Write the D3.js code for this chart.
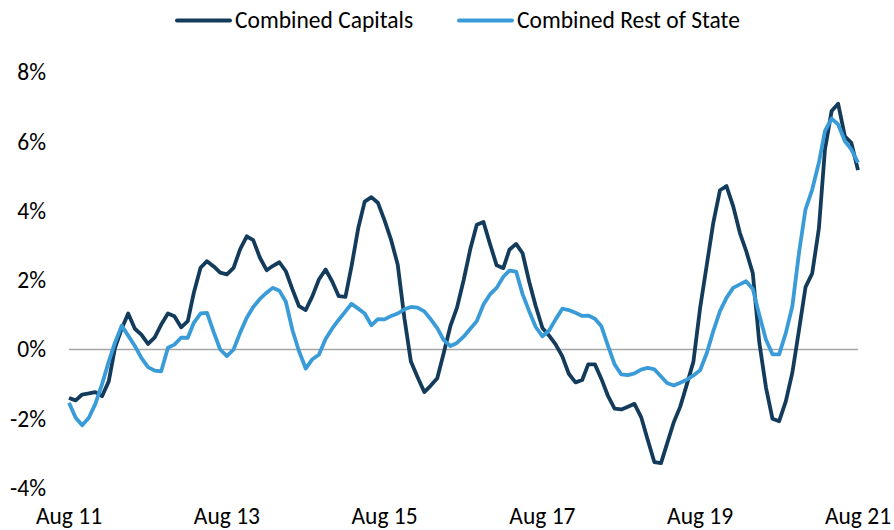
<!DOCTYPE html>
<html>
<head>
<meta charset="utf-8">
<script src="https://cdn.jsdelivr.net/npm/d3@7"></script>
<style>
  html, body { margin: 0; padding: 0; background: #fff; }
  svg { display: block; font-family: Carlito, Calibri, "Liberation Sans", Arial, sans-serif; }
</style>
</head>
<body>
<div id="chart"></div>
<script>
// monthly series, Aug 2011 .. Aug 2021
var startMonth = new Date(2011, 7, 1);
var capitals = [
  -1.40, -1.47, -1.30, -1.27, -1.23, -1.35, -0.92, 0.05, 0.60, 1.04,
  0.60, 0.43, 0.16, 0.35, 0.72, 1.04, 0.96, 0.64, 0.82, 1.64,
  2.36, 2.55, 2.40, 2.22, 2.17, 2.36, 2.89, 3.27, 3.16, 2.65,
  2.29, 2.41, 2.52, 2.26, 1.73, 1.25, 1.14, 1.54, 2.02, 2.31,
  1.97, 1.54, 1.52, 2.40, 3.50, 4.27, 4.40, 4.24, 3.73, 3.15,
  2.45, 0.90, -0.35, -0.80, -1.23, -1.05, -0.83, -0.10, 0.68, 1.20,
  2.00, 2.90, 3.60, 3.68, 3.05, 2.43, 2.35, 2.88, 3.05, 2.78,
  1.95, 1.25, 0.62, 0.40, 0.15, -0.20, -0.70, -0.95, -0.88, -0.43,
  -0.43, -0.85, -1.35, -1.71, -1.73, -1.65, -1.57, -1.95, -2.60, -3.25,
  -3.28, -2.72, -2.10, -1.65, -1.00, -0.35, 1.20, 2.45, 3.66, 4.60,
  4.72, 4.14, 3.37, 2.85, 2.20, 0.20, -1.10, -2.00, -2.07, -1.49,
  -0.67, 0.57, 1.80, 2.20, 3.50, 5.78, 6.89, 7.10, 6.16, 5.97,
  5.18
];
var restOfState = [
  -1.54, -1.97, -2.19, -1.97, -1.57, -1.00, -0.35, 0.20, 0.69, 0.40,
  0.10, -0.24, -0.51, -0.61, -0.63, 0.05, 0.14, 0.34, 0.34, 0.77,
  1.04, 1.06, 0.50, 0.00, -0.19, 0.00, 0.48, 0.92, 1.23, 1.46,
  1.64, 1.78, 1.70, 1.38, 0.55, -0.05, -0.55, -0.28, -0.15, 0.30,
  0.60, 0.86, 1.10, 1.32, 1.18, 1.04, 0.70, 0.88, 0.87, 0.97,
  1.04, 1.16, 1.23, 1.21, 1.10, 0.88, 0.62, 0.27, 0.10, 0.19,
  0.37, 0.60, 0.82, 1.30, 1.59, 1.78, 2.10, 2.28, 2.25, 1.60,
  1.10, 0.65, 0.38, 0.55, 0.87, 1.18, 1.14, 1.06, 0.97, 0.98,
  0.89, 0.67, 0.10, -0.43, -0.72, -0.74, -0.69, -0.58, -0.53, -0.57,
  -0.78, -0.97, -1.04, -0.96, -0.87, -0.75, -0.60, -0.10, 0.53, 1.11,
  1.49, 1.78, 1.88, 1.97, 1.75, 1.00, 0.28, -0.14, -0.14, 0.48,
  1.25, 2.80, 4.05, 4.62, 5.40, 6.31, 6.67, 6.50, 6.02, 5.78,
  5.40
];
var seriesNames = ["Combined Capitals", "Combined Rest of State"];
var seriesColors = ["#133b5c", "#3a9bd9"];
var yTicks = [-4, -2, 0, 2, 4, 6, 8];
var xTickYears = [2011, 2013, 2015, 2017, 2019, 2021];

var W = 894, H = 530;
var fontSize = 23.5;
var svg = d3.select("#chart").append("svg").attr("width", W).attr("height", H);

var months = capitals.map(function(d, i) { return d3.timeMonth.offset(startMonth, i); });

var x = d3.scaleTime()
  .domain([startMonth, months[months.length - 1]])
  .range([69, 858]);
var y = d3.scaleLinear().domain([-4, 8]).range([488, 72.5]);

// y labels
svg.append("g").selectAll("text").data(yTicks).join("text")
  .attr("x", 46)
  .attr("y", function(d) { return y(d); })
  .attr("dy", "0.34em")
  .attr("text-anchor", "end")
  .attr("font-size", fontSize)
  .attr("fill", "#000")
  .text(function(d) { return d + "%"; });

// x labels (kept just inside the bottom edge)
svg.append("g").selectAll("text").data(xTickYears).join("text")
  .attr("x", function(d) { return x(new Date(d, 7, 1)); })
  .attr("y", 523.5)
  .attr("text-anchor", "middle")
  .attr("font-size", fontSize)
  .attr("fill", "#000")
  .text(function(d) { return "Aug " + String(d).slice(2); });

// zero line
svg.append("line")
  .attr("x1", x.range()[0]).attr("x2", x.range()[1])
  .attr("y1", y(0)).attr("y2", y(0))
  .attr("stroke", "#a6a6a6").attr("stroke-width", 1.5);

var line = d3.line()
  .x(function(d, i) { return x(months[i]); })
  .y(function(d) { return y(d); });

[capitals, restOfState].forEach(function(s, k) {
  svg.append("path")
    .datum(s)
    .attr("d", line)
    .attr("fill", "none")
    .attr("stroke", seriesColors[k])
    .attr("stroke-width", 3.8)
    .attr("stroke-linejoin", "round");
});

// legend
var legendX = [177, 459];
var lg = svg.append("g").selectAll("g").data(seriesNames).join("g")
  .attr("transform", function(d, i) { return "translate(" + legendX[i] + ",20.5)"; });
lg.append("line")
  .attr("x1", 0).attr("x2", 53)
  .attr("stroke", function(d, i) { return seriesColors[i]; })
  .attr("stroke-width", 4)
  .attr("stroke-linecap", "round");
lg.append("text")
  .attr("x", 58).attr("y", 7.5)
  .attr("font-size", fontSize)
  .attr("fill", "#000")
  .text(function(d) { return d; });
</script>
</body>
</html>
